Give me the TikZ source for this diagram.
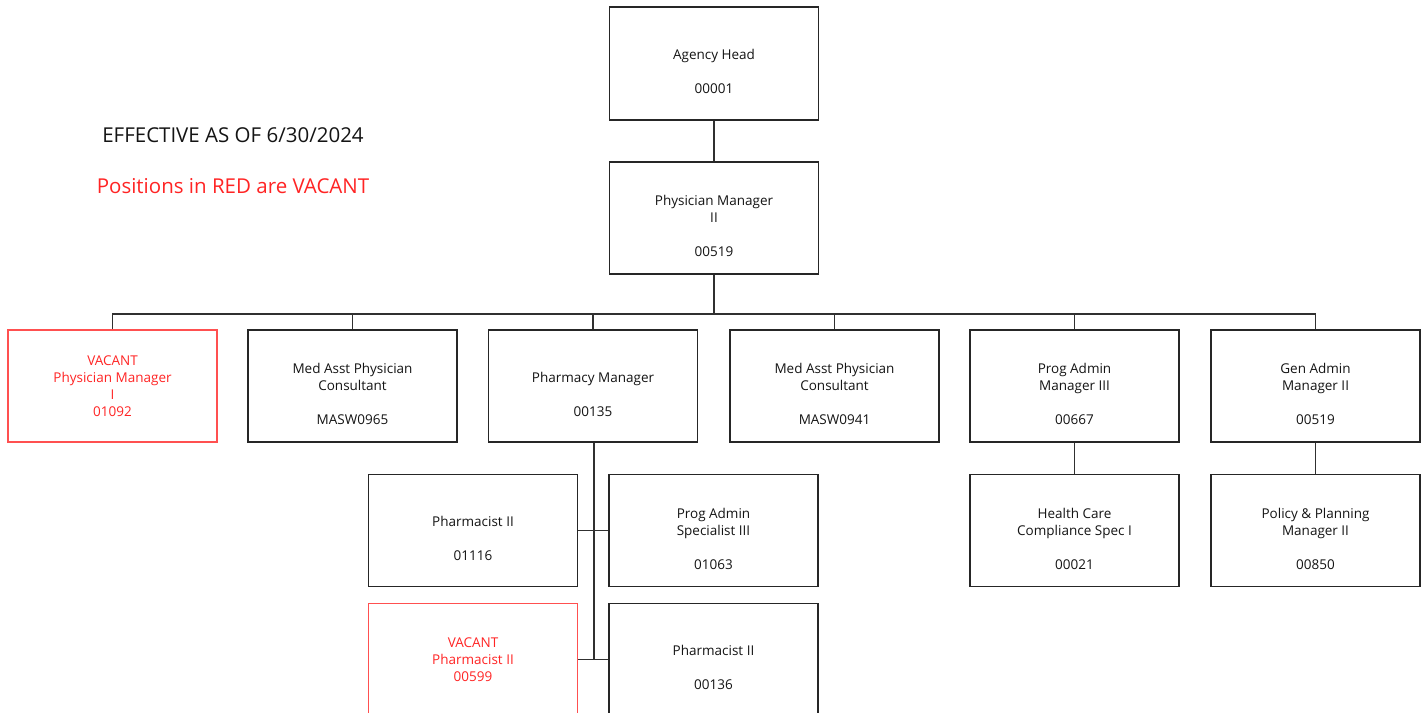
\documentclass[tikz,border=0pt]{standalone}
\usepackage{fontspec}
\setmainfont{Open Sans}
\definecolor{boxline}{HTML}{262626}
\definecolor{linecol}{HTML}{303030}
\definecolor{vacline}{HTML}{FF5050}
\definecolor{vacred}{HTML}{FF2424}
\definecolor{textcol}{HTML}{141414}
\tikzset{
  postbox/.style={draw=boxline, line width=1.3pt, minimum width=209pt, minimum height=112pt, inner sep=0pt},
  vacbox/.style={postbox, draw=vacline},
  txt/.style={align=center, font=\fontsize{13.5}{17}\selectfont, text=textcol, inner sep=0pt},
  vtxt/.style={txt, text=vacred},
  link/.style={draw=linecol, line width=1.4pt},
  hdr/.style={font=\fontsize{20.5}{24}\selectfont, inner sep=0pt},
}
\begin{document}
\begin{tikzpicture}[x=1pt, y=-1pt]
\clip (0,0) rectangle (1426,712);

% heading notes
\node[hdr, text=textcol] (eff) at (233,135) {EFFECTIVE AS OF 6/30/2024};
\node[hdr, text=vacred] (note) at (233,186) {Positions in RED are VACANT};

% top of the chart
\node[postbox, minimum height=113pt] (head) at (714,63.5) {};
\node[txt] (headT) at ([yshift=-8pt]head.center) {Agency Head\\[17pt]00001};
\node[postbox] (pm2) at (714,218) {};
\node[txt] (pm2T) at ([yshift=-8pt]pm2.center) {Physician Manager\\II\\[17pt]00519};

% direct reports
\node[vacbox] (pm1) at (112.5,386) {};
\node[vtxt] (pm1T) at (pm1.center) {VACANT\\Physician Manager\\I\\01092};
\node[postbox] (masA) at (352.5,386) {};
\node[txt] (masAT) at ([yshift=-8pt]masA.center) {Med Asst Physician\\Consultant\\[17pt]MASW0965};
\node[postbox] (phm) at (593,386) {};
\node[txt] (phmT) at ([yshift=-8pt]phm.center) {Pharmacy Manager\\[17pt]00135};
\node[postbox] (masB) at (834.5,386) {};
\node[txt] (masBT) at ([yshift=-8pt]masB.center) {Med Asst Physician\\Consultant\\[17pt]MASW0941};
\node[postbox] (pam) at (1074.5,386) {};
\node[txt] (pamT) at ([yshift=-8pt]pam.center) {Prog Admin\\Manager III\\[17pt]00667};
\node[postbox] (gam) at (1315.5,386) {};
\node[txt] (gamT) at ([yshift=-8pt]gam.center) {Gen Admin\\Manager II\\[17pt]00519};

% pharmacy staff
\node[postbox] (ph1) at (473,530.5) {};
\node[txt] (ph1T) at ([yshift=-8pt]ph1.center) {Pharmacist II\\[17pt]01116};
\node[postbox] (pas) at (713.5,530.5) {};
\node[txt] (pasT) at ([yshift=-8pt]pas.center) {Prog Admin\\Specialist III\\[17pt]01063};
\node[vacbox] (ph2) at (473,659.5) {};
\node[vtxt] (ph2T) at (ph2.center) {VACANT\\Pharmacist II\\00599};
\node[postbox] (ph3) at (713.5,659.5) {};
\node[txt] (ph3T) at ([yshift=-8pt]ph3.center) {Pharmacist II\\[17pt]00136};

% other third-level positions
\node[postbox] (hcc) at (1074.5,530.5) {};
\node[txt] (hccT) at ([yshift=-8pt]hcc.center) {Health Care\\Compliance Spec I\\[17pt]00021};
\node[postbox] (ppm) at (1315.5,530.5) {};
\node[txt] (ppmT) at ([yshift=-8pt]ppm.center) {Policy \& Planning\\Manager II\\[17pt]00850};

% connectors
\coordinate (bus) at (714,314);
\draw[link] (head.south) -- (pm2.north);
\draw[link] (pm2.south) -- (bus);
\draw[link] (pm1.north) -- (pm1.north |- bus) -- (gam.north |- bus) -- (gam.north);
\foreach \n in {masA,phm,masB,pam}
  \draw[link] (\n.north) -- (\n.north |- bus);
\draw[link] ([xshift=1pt]phm.south) -- ([xshift=1pt]phm.south |- ph2.east);
\draw[link] (ph1.east) -- (pas.west);
\draw[link] (ph2.east) -- (ph3.west);
\draw[link] (pam.south) -- (hcc.north);
\draw[link] (gam.south) -- (ppm.north);
\end{tikzpicture}
\end{document}
